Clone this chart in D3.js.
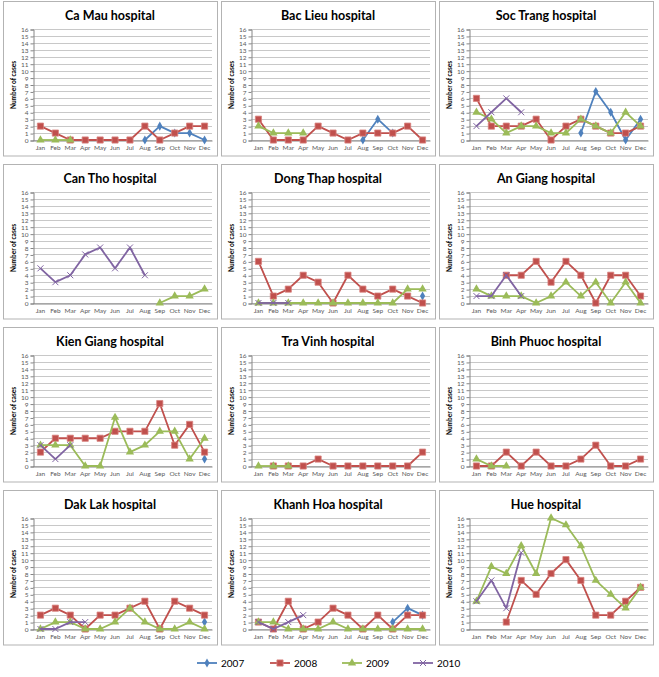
<!DOCTYPE html>
<html><head><meta charset="utf-8">
<script src="https://cdn.jsdelivr.net/npm/d3@7"></script>
<style>body{margin:0;background:#fff}svg{display:block}</style>
</head><body>
<script>
const months = ["Jan","Feb","Mar","Apr","May","Jun","Jul","Aug","Sep","Oct","Nov","Dec"];
const years = ["2007","2008","2009","2010"];
const yTicks = d3.range(0,17);
const _ = null;
const hospitals = ["Ca Mau hospital","Bac Lieu hospital","Soc Trang hospital","Can Tho hospital","Dong Thap hospital","An Giang hospital","Kien Giang hospital","Tra Vinh hospital","Binh Phuoc hospital","Dak Lak hospital","Khanh Hoa hospital","Hue hospital"];
const s2007 = [
 [_,_,_,_,_,_,_,0,2,1,1,0],
 [_,_,_,_,_,_,_,0,3,1,_,_],
 [_,_,_,_,_,_,_,1,7,4,0,3],
 [_,_,_,_,_,_,_,_,_,_,_,_],
 [_,_,_,_,_,_,_,_,_,_,_,1],
 [_,_,_,_,_,_,_,_,_,_,_,_],
 [_,_,_,_,_,_,_,_,_,_,_,1],
 [_,_,_,_,_,_,_,_,_,_,_,_],
 [_,_,_,_,_,_,_,_,_,_,_,_],
 [_,_,_,_,_,_,_,_,_,_,_,1],
 [_,_,_,_,_,_,_,_,_,1,3,2],
 [_,_,_,_,_,_,_,_,_,_,_,_]
];
const s2008 = [
 [2,1,0,0,0,0,0,2,0,1,2,2],
 [3,0,0,0,2,1,0,1,1,1,2,0],
 [6,2,2,2,3,0,2,3,2,1,1,2],
 [_,_,_,_,_,_,_,_,_,_,_,_],
 [6,1,2,4,3,0,4,2,1,2,1,0],
 [_,_,4,4,6,3,6,4,0,4,4,1],
 [2,4,4,4,4,5,5,5,9,3,6,2],
 [_,0,0,0,1,0,0,0,0,0,0,2],
 [0,0,2,0,2,0,0,1,3,0,0,1],
 [2,3,2,0,2,2,3,4,0,4,3,2],
 [1,0,4,0,1,3,2,0,2,0,2,2],
 [_,_,1,7,5,8,10,7,2,2,4,6]
];
const s2009 = [
 [0,0,0,_,_,_,_,_,_,_,_,_],
 [2,1,1,1,_,_,_,_,_,_,_,_],
 [4,3,1,2,2,1,1,3,2,1,4,2],
 [_,_,_,_,_,_,_,_,0,1,1,2],
 [0,0,0,0,0,0,0,0,0,0,2,2],
 [2,1,1,1,0,1,3,1,3,0,3,0],
 [3,3,3,0,0,7,2,3,5,5,1,4],
 [0,0,0,_,_,_,_,_,_,_,_,_],
 [1,0,0,_,_,_,_,_,_,_,_,_],
 [0,1,1,0,0,1,3,1,0,0,1,0],
 [1,1,0,0,0,1,0,0,0,0,0,0],
 [4,9,8,12,8,16,15,12,7,5,3,6]
];
const s2010 = [
 [_,_,_,_,_,_,_,_,_,_,_,_],
 [_,_,_,_,_,_,_,_,_,_,_,_],
 [2,4,6,4,_,_,_,_,_,_,_,_],
 [5,3,4,7,8,5,8,4,_,_,_,_],
 [0,0,0,_,_,_,_,_,_,_,_,_],
 [1,1,4,1,_,_,_,_,_,_,_,_],
 [3,1,3,_,_,_,_,_,_,_,_,_],
 [_,_,_,_,_,_,_,_,_,_,_,_],
 [_,_,_,_,_,_,_,_,_,_,_,_],
 [0,0,1,1,_,_,_,_,_,_,_,_],
 [1,0,1,2,_,_,_,_,_,_,_,_],
 [4,7,3,11,_,_,_,_,_,_,_,_]
];
const seriesData = [s2007, s2008, s2009, s2010];
const colors = ["#4F81BD","#C0504D","#9BBB59","#8064A2"];
const symbols = [d3.symbolDiamond, d3.symbolSquare, d3.symbolTriangle, d3.symbolCross];

const W = 659, H = 677;
const svg = d3.select("body").append("svg").attr("width", W).attr("height", H);
const font = "Lato, 'Open Sans', sans-serif";

function marker(g, k, x, y) {
  if (k === 3) {
    const r = 3;
    g.append("path").attr("d", `M${x-r},${y-r}L${x+r},${y+r}M${x-r},${y+r}L${x+r},${y-r}`)
      .attr("stroke", colors[k]).attr("stroke-width", 1).attr("fill", "none");
  } else {
    const size = k === 0 ? 24 : (k === 1 ? 38 : 30);
    g.append("path").attr("d", d3.symbol().type(symbols[k]).size(size)())
      .attr("transform", `translate(${x},${y})`).attr("fill", colors[k])
      .attr("stroke", k === 1 ? "#d9837f" : "none").attr("stroke-width", 0.8);
  }
}

hospitals.forEach((name, i) => {
  const col = i % 3, row = Math.floor(i / 3);
  const ox = col * 218, oy = row * 163;
  const g = svg.append("g").attr("transform", `translate(${ox},${oy})`);
  g.append("rect").attr("x", 3.5).attr("y", 1.5).attr("width", 214).attr("height", 154.5)
    .attr("fill", "#fff").attr("stroke", "#b3b3b3").attr("stroke-width", 1);
  g.append("text").attr("x", 110).attr("y", 20).attr("text-anchor", "middle")
    .attr("font-family", font).attr("font-weight", "bold").attr("font-size", 12.5).attr("fill", "#000").text(name);

  const x = d3.scaleBand().domain(months).range([33, 212]);
  const y = d3.scaleLinear().domain([0, 16]).range([140, 29]);

  g.append("g").selectAll("line").data(yTicks).join("line")
    .attr("x1", 33).attr("x2", 212).attr("y1", d => Math.round(y(d)) + 0.5).attr("y2", d => Math.round(y(d)) + 0.5)
    .attr("stroke", "#c8c8c8").attr("stroke-width", 1);

  const yAxis = g.append("g").attr("transform", "translate(33.5,0.5)")
    .call(d3.axisLeft(y).tickValues(yTicks).tickSize(3).tickFormat(d3.format("d")));
  yAxis.select(".domain").attr("stroke", "#868686");
  yAxis.selectAll(".tick line").attr("stroke", "#868686");
  yAxis.selectAll("text").attr("font-family", font).attr("font-size", 6.5).attr("fill", "#595959").attr("dx", 1);

  const xAxis = g.append("g").attr("transform", "translate(0,140.5)")
    .call(d3.axisBottom(x).tickSize(0).tickPadding(5));
  xAxis.select(".domain").attr("stroke", "#868686");
  xAxis.selectAll("text").attr("font-family", font).attr("font-size", 6.5).attr("fill", "#595959");

  g.append("text").attr("transform", "translate(16,85) rotate(-90)").attr("text-anchor", "middle")
    .attr("font-family", font).attr("font-weight", "bold").attr("font-size", 6.5).attr("fill", "#000").text("Number of cases");

  seriesData.forEach((s, k) => {
    const vals = s[i];
    const pts = vals.map((v, j) => ({m: months[j], v}));
    const line = d3.line().defined(d => d.v !== null)
      .x(d => x(d.m) + x.bandwidth() / 2).y(d => y(d.v));
    g.append("path").datum(pts).attr("d", line).attr("fill", "none")
      .attr("stroke", colors[k]).attr("stroke-width", 1.8).attr("stroke-linejoin", "round");
    const mg = g.append("g");
    pts.filter(d => d.v !== null).forEach(d => marker(mg, k, x(d.m) + x.bandwidth() / 2, y(d.v)));
  });
});

const legX = [197, 270, 342, 413];
const lg = svg.append("g").attr("transform", "translate(0,663)");
years.forEach((yr, k) => {
  const g = lg.append("g").attr("transform", `translate(${legX[k]},0)`);
  g.append("line").attr("x1", 0).attr("x2", 20).attr("y1", 0).attr("y2", 0)
    .attr("stroke", colors[k]).attr("stroke-width", 1.8);
  marker(g, k, 10, 0);
  g.append("text").attr("x", 24).attr("y", 3.5).attr("font-family", font)
    .attr("font-size", 10).attr("fill", "#000").text(yr);
});
</script>
</body></html>
